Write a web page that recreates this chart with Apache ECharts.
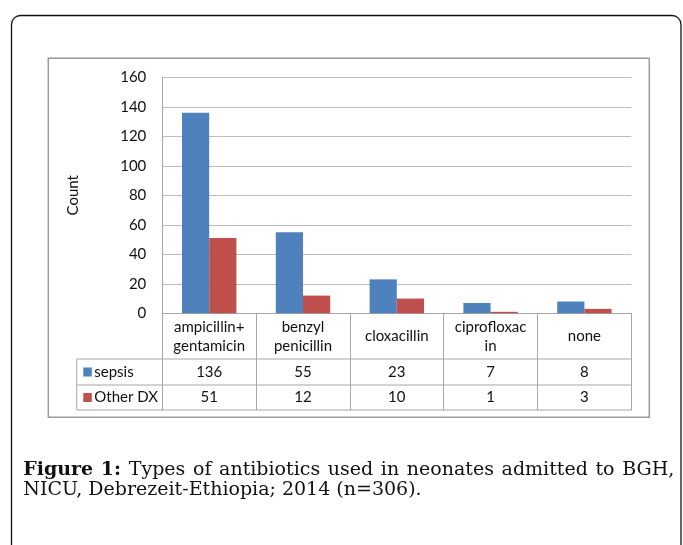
<!DOCTYPE html>
<html><head><meta charset="utf-8">
<script src="https://cdn.jsdelivr.net/npm/echarts@6/dist/echarts.min.js"></script>
<style>html,body{margin:0;padding:0;background:#fff}#c{width:683px;height:545px}</style>
</head><body><div id="c"></div>
<script>
// ---- data ----
const categories = ['ampicillin+\ngentamicin', 'benzyl\npenicillin', 'cloxacillin', 'ciprofloxac\nin', 'none'];
const seriesNames = ['sepsis', 'Other DX'];
const sepsis = [136, 55, 23, 7, 8];
const otherDX = [51, 12, 10, 1, 3];
const yMin = 0, yMax = 160, yInterval = 20;
const yName = 'Count';
const captionBoldWords = ['Figure', '1:'];
const captionLine1 = 'Types of antibiotics used in neonates admitted to BGH,';
const captionLine2 = 'NICU, Debrezeit-Ethiopia; 2014 (n=306).';

// ---- style ----
const BLUE = '#4F81BD', RED = '#C0504D';
const FONT = 'Lato';
const TXT = '#111';
const GRID = {left: 162.3, right: 683 - 631.3, top: 77.3, bottom: 545 - 313.3};
const chart = echarts.init(document.getElementById('c'), null, {renderer: 'canvas'});

const option = {
  animation: false,
  backgroundColor: '#fff',
  grid: GRID,
  xAxis: {
    type: 'category',
    data: categories,
    axisLine: {show: true, lineStyle: {color: '#a6a6a6', width: 1}},
    axisTick: {show: true, interval: 0, length: 97, lineStyle: {color: '#a6a6a6', width: 1}},
    axisLabel: {interval: 0, fontFamily: FONT, fontSize: 15, color: TXT, lineHeight: 19,
      verticalAlign: 'middle', margin: 23},
    splitLine: {show: false}
  },
  yAxis: {
    type: 'value', min: yMin, max: yMax, interval: yInterval,
    name: yName, nameLocation: 'middle', nameRotate: 90, nameGap: 82,
    nameTextStyle: {fontFamily: FONT, fontSize: 15, color: TXT},
    axisLine: {show: true, lineStyle: {color: '#a6a6a6', width: 1}},
    axisTick: {show: false},
    axisLabel: {fontFamily: FONT, fontSize: 15, color: TXT, margin: 16},
    splitLine: {show: true, lineStyle: {color: '#bdbdbd', width: 1.2}}
  },
  series: [
    {name: seriesNames[0], type: 'bar', data: sepsis, itemStyle: {color: BLUE},
      barGap: '0%', barCategoryGap: '42%'},
    {name: seriesNames[1], type: 'bar', data: otherDX, itemStyle: {color: RED},
      barGap: '0%', barCategoryGap: '42%'}
  ]
};
chart.setOption(option);

// ---- table + frames + caption (graphic layer) ----
const tableLeft = 76.7, plotLeft = GRID.left, plotRight = 683 - GRID.right;
const rowTops = [359, 385, 410];
const g = [];
const lineStyle = {stroke: '#a6a6a6', lineWidth: 1};
// outer rounded frame
g.push({type: 'rect', shape: {x: 11.5, y: 15.5, width: 669.5, height: 620, r: 9},
  style: {fill: null, stroke: '#111', lineWidth: 1.3}, silent: true, z: 0});
// inner chart frame
g.push({type: 'rect', shape: {x: 48.3, y: 58.3, width: 601, height: 359},
  style: {fill: null, stroke: '#9a9a9a', lineWidth: 1.5}, silent: true, z: 0});
// horizontal table lines
rowTops.forEach(y => g.push({type: 'line', shape: {x1: tableLeft, y1: y, x2: plotRight, y2: y}, style: lineStyle, silent: true}));
// left border of legend column
g.push({type: 'line', shape: {x1: tableLeft, y1: rowTops[0], x2: tableLeft, y2: rowTops[2]}, style: lineStyle, silent: true});
// row legends and values
const rows = [{name: seriesNames[0], color: BLUE, vals: sepsis}, {name: seriesNames[1], color: RED, vals: otherDX}];
rows.forEach((r, ri) => {
  const cy = (rowTops[ri] + rowTops[ri + 1]) / 2;
  g.push({type: 'rect', shape: {x: 83.3, y: cy - 4.5, width: 8.5, height: 9}, style: {fill: r.color}, silent: true});
  g.push({type: 'text', x: 94.3, y: cy, style: {text: r.name, fontFamily: FONT, fontSize: 15, fill: TXT,
    align: 'left', verticalAlign: 'middle'}, silent: true});
  r.vals.forEach((v, i) => {
    const px = chart.convertToPixel({xAxisIndex: 0}, i);
    g.push({type: 'text', x: px, y: cy, style: {text: String(v), fontFamily: FONT, fontSize: 15, fill: TXT,
      align: 'center', verticalAlign: 'middle'}, silent: true});
  });
});
// caption, line 1 justified
const SERIF = 'DejaVu Serif', CSIZE = 19;
const ctx = document.createElement('canvas').getContext('2d');
function w(t, bold) { ctx.font = (bold ? 'bold ' : '') + CSIZE + 'px "' + SERIF + '"'; return ctx.measureText(t).width; }
const words1 = captionBoldWords.map(t => ({t, b: true})).concat(captionLine1.split(' ').map(t => ({t, b: false})));
const x0 = 23.3, x1 = 674.3;
const total = words1.reduce((s, o) => s + w(o.t, o.b), 0);
const gap = (x1 - x0 - total) / (words1.length - 1);
let cx = x0;
const y1 = 470.5, y2 = 490.5;
words1.forEach(o => {
  g.push({type: 'text', x: cx, y: y1, style: {text: o.t, fontFamily: SERIF, fontSize: CSIZE,
    fontWeight: o.b ? 'bold' : 'normal', fill: '#111', align: 'left', verticalAlign: 'middle'}, silent: true});
  cx += w(o.t, o.b) + gap;
});
g.push({type: 'text', x: x0, y: y2, style: {text: captionLine2, fontFamily: SERIF, fontSize: CSIZE,
  fill: '#111', align: 'left', verticalAlign: 'middle'}, silent: true});

chart.setOption({graphic: {elements: g}});
</script>
</body></html>
